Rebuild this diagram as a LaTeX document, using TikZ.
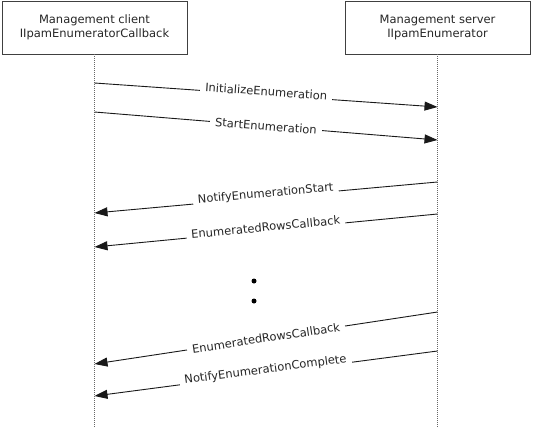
\documentclass[tikz,border=0pt]{standalone}
\usepackage{fontspec}
\setmainfont{DejaVu Sans}
\usetikzlibrary{arrows.meta}
\begin{document}
\begin{tikzpicture}[x=1pt,y=-1pt,
  actor/.style={draw=black!75, line width=0.8pt, minimum width=185pt, minimum height=53pt, align=center, inner sep=0pt, text=black!85, font=\fontsize{11.5}{13.5}\selectfont},
  lifeline/.style={draw=black!60, line width=0.8pt, dash pattern=on 1pt off 1pt},
  msg/.style={draw=black!90, line width=0.9pt, -{Triangle[length=13pt,width=9pt]}},
  lbl/.style={midway, sloped, fill=white, inner xsep=5pt, inner ysep=1pt, text=black!85, font=\fontsize{11.5}{13}\selectfont},
  up/.style={yshift=3.5pt},
  dotmark/.style={circle, fill=black, inner sep=0pt, minimum size=5pt}]
\useasboundingbox (0,0) rectangle (534,428);
\node[actor] (client) at (94.5,27.5) {Management client\\IIpamEnumeratorCallback};
\node[actor] (server) at (437.5,27.5) {Management server\\IIpamEnumerator};
\coordinate (cEnd) at (94.5,428);
\coordinate (sEnd) at (437.5,428);
\draw[lifeline] (client.south) -- (cEnd);
\draw[lifeline] (server.south) -- (sEnd);
% message endpoints
\coordinate (c1) at (94.5,83);  \coordinate (s1) at (437.5,107);
\coordinate (c2) at (94.5,112); \coordinate (s2) at (437.5,140);
\coordinate (s3) at (437.5,182); \coordinate (c3) at (94.5,213);
\coordinate (s4) at (437.5,214); \coordinate (c4) at (94.5,247);
\coordinate (s5) at (437.5,312); \coordinate (c5) at (94.5,364);
\coordinate (s6) at (437.5,351); \coordinate (c6) at (94.5,396);
\draw[msg] (c1) -- node[lbl,up] {InitializeEnumeration} (s1);
\draw[msg] (c2) -- node[lbl] {StartEnumeration} (s2);
\draw[msg] (s3) -- node[lbl,up] {NotifyEnumerationStart} (c3);
\draw[msg] (s4) -- node[lbl,up] {EnumeratedRowsCallback} (c4);
\draw[msg] (s5) -- node[lbl] {EnumeratedRowsCallback} (c5);
\draw[msg] (s6) -- node[lbl,up] {NotifyEnumerationComplete} (c6);
\node[dotmark] (d1) at (254,281) {};
\node[dotmark] (d2) at (254,301) {};
\end{tikzpicture}
\end{document}
